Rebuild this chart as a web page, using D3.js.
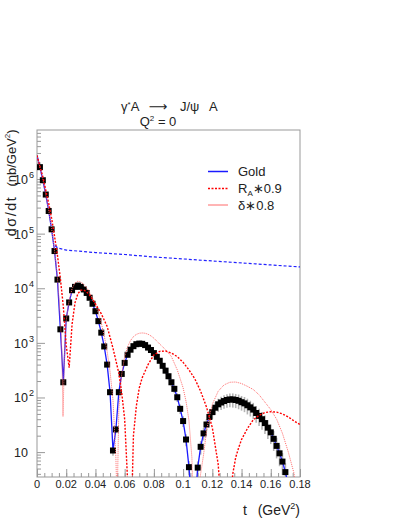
<!DOCTYPE html>
<html>
<head>
<meta charset="utf-8">
<script src="https://cdn.jsdelivr.net/npm/d3@7"></script>
<style>
  body { margin: 0; background: #fff; }
  text { font-family: "Liberation Sans", Arial, sans-serif; fill: #222; }
</style>
</head>
<body>
<div id="chart"></div>
<script>
// t grid of the Gold points (GeV^2) and dsigma/dt (nb/GeV^2)
const goldT = [0, 0.002, 0.004, 0.006, 0.008, 0.010, 0.012, 0.014, 0.016, 0.018,
  0.020, 0.022, 0.024, 0.026, 0.028, 0.030, 0.032, 0.034, 0.036, 0.038,
  0.040, 0.042, 0.044, 0.046, 0.048, 0.050, 0.052, 0.054, 0.056, 0.058,
  0.060, 0.062, 0.064, 0.066, 0.068, 0.070, 0.072, 0.074, 0.076, 0.078,
  0.080, 0.082, 0.084, 0.086, 0.088, 0.090, 0.092, 0.094, 0.096, 0.098,
  0.100, 0.102, 0.104, 0.106, 0.108, 0.110, 0.112, 0.114, 0.116, 0.118,
  0.120, 0.122, 0.124, 0.126, 0.128, 0.130, 0.132, 0.134, 0.136, 0.138,
  0.140, 0.142, 0.144, 0.146, 0.148, 0.150, 0.152, 0.154, 0.156, 0.158,
  0.160, 0.162, 0.164, 0.166, 0.168, 0.170, 0.172];
const gold = [2.7e6, 1.65e6, 9.5e5, 5.2e5, 2.6e5, 1.2e5, 4.8e4, 1.44e4, 1770, 190,
  2800, 5500, 9200, 10600, 11200, 10600, 9500, 8200, 6700, 5200,
  3800, 2500, 1540, 860, 400, 125, 10.7, 26, 125, 270,
  430, 605, 750, 870, 946, 970, 960, 910, 820, 740,
  650, 555, 470, 380, 310, 245, 190, 144, 101, 62,
  37, 17, 5.3, 1.2, 1.0, 5.2, 12.5, 22, 32, 44,
  54, 65, 75, 81, 86, 90, 92, 92, 90, 87,
  82, 78, 72, 66, 60, 52, 46, 40, 34, 28,
  23, 17.5, 13, 9.5, 6.7, 4.3, 2.5];
// relative error of each Gold point
const goldErr = [0, 0.05, 0.05, 0.05, 0.05, 0.05, 0.05, 0.05, 0.06, 0.1,
  0.06, 0.05, 0.05, 0.05, 0.05, 0.05, 0.05, 0.05, 0.05, 0.05,
  0.05, 0.06, 0.06, 0.07, 0.08, 0.1, 0.2, 0.15, 0.1, 0.08,
  0.07, 0.07, 0.07, 0.07, 0.07, 0.07, 0.08, 0.08, 0.09, 0.1,
  0.1, 0.11, 0.12, 0.13, 0.14, 0.15, 0.16, 0.17, 0.18, 0.2,
  0.22, 0.25, 0.3, 0.3, 0.3, 0.3, 0.28, 0.26, 0.25, 0.25,
  0.25, 0.26, 0.27, 0.27, 0.28, 0.28, 0.28, 0.29, 0.29, 0.3,
  0.3, 0.31, 0.32, 0.32, 0.33, 0.34, 0.35, 0.36, 0.37, 0.38,
  0.39, 0.4, 0.41, 0.42, 0.43, 0.45, 0.45];

// R_A*0.9 curve
const raT = [0, 0.004, 0.008, 0.010, 0.012, 0.014, 0.016, 0.018, 0.020, 0.022,
  0.024, 0.026, 0.028, 0.030, 0.032, 0.034, 0.036, 0.040, 0.044, 0.048,
  0.052, 0.056, 0.058, 0.060, 0.062, 0.0645, 0.066, 0.068, 0.070, 0.072,
  0.076, 0.080, 0.084, 0.088, 0.092, 0.096, 0.100, 0.104, 0.108, 0.112,
  0.116, 0.120, 0.124, 0.127, 0.131, 0.134, 0.136, 0.138, 0.140, 0.144,
  0.148, 0.152, 0.156, 0.160, 0.164, 0.168, 0.172, 0.176, 0.180];
const ra = [2.7e6, 1.1e6, 3.6e5, 1.9e5, 9e4, 4e4, 1.5e4, 4700, 900, 350,
  2200, 5400, 8000, 9200, 9300, 8600, 7500, 5200, 3400, 2000,
  800, 280, 120, 40, 3, 0.5, 20, 70, 150, 230,
  400, 600, 700, 710, 650, 560, 440, 320, 220, 130,
  67, 28, 6, 0.5, 0.5, 4, 8, 12, 17, 27,
  39, 47, 53, 55, 54, 50, 44, 37, 32];

// delta*0.8 curve
const dlT = [0, 0.004, 0.008, 0.010, 0.012, 0.014, 0.016, 0.017, 0.0178, 0.019,
  0.020, 0.022, 0.024, 0.026, 0.028, 0.030, 0.032, 0.034, 0.036, 0.038,
  0.040, 0.042, 0.044, 0.046, 0.048, 0.050, 0.052, 0.054, 0.0548, 0.056,
  0.058, 0.060, 0.062, 0.064, 0.066, 0.068, 0.070, 0.072, 0.074, 0.076,
  0.078, 0.080, 0.084, 0.088, 0.092, 0.096, 0.098, 0.100, 0.102, 0.104,
  0.106, 0.107, 0.108, 0.110, 0.112, 0.114, 0.116, 0.118, 0.120, 0.124,
  0.128, 0.132, 0.136, 0.140, 0.144, 0.148, 0.152, 0.156, 0.160, 0.164,
  0.168, 0.172, 0.176, 0.178];
const dl = [2.7e6, 9.8e5, 2.7e5, 1.25e5, 5e4, 1.6e4, 2800, 700, 45, 900,
  2600, 6000, 9800, 12500, 13500, 13000, 11800, 10200, 8400, 6600,
  5000, 3500, 2300, 1350, 700, 300, 90, 8, 1, 60,
  270, 560, 850, 1100, 1300, 1430, 1500, 1520, 1500, 1440,
  1340, 1220, 950, 750, 560, 320, 220, 150, 85, 38,
  8, 1, 0.3, 1.5, 4, 9, 24, 45, 75, 130,
  170, 190, 192, 180, 160, 140, 112, 82, 60, 40,
  22, 10, 4, 1];

// flat blue dashed curve
const incT = [0.0125, 0.014, 0.02, 0.04, 0.06, 0.08, 0.10, 0.12, 0.14, 0.16, 0.18];
const inc = [60000, 55000, 50000, 45000, 41500, 37400, 34400, 31600, 29100, 26700, 24600];

// axis ticks
const xTicks = [0, 0.02, 0.04, 0.06, 0.08, 0.1, 0.12, 0.14, 0.16, 0.18];
const xTickLabels = ["0", "0.02", "0.04", "0.06", "0.08", "0.1", "0.12", "0.14", "0.16", "0.18"];
const yTicks = [10, 100, 1000, 10000, 100000, 1000000];
const yTickExp = ["", "2", "3", "4", "5", "6"];

function renderChart() {
  const svg = d3.select("#chart").append("svg")
    .attr("width", 405)
    .attr("height", 524);

  const left = 37, right = 300, top = 130, bottom = 477;

  const x = d3.scaleLinear().domain([0, 0.18]).range([left, right]);
  const y = d3.scaleLog().domain([3.5, 7.9e6]).range([bottom, top]);

  svg.append("clipPath").attr("id", "frame")
    .append("rect")
    .attr("x", left).attr("y", top)
    .attr("width", right - left).attr("height", bottom - top);

  // ticks inside the frame
  const xMinor = d3.range(0, 0.1801, 0.005);
  svg.append("g")
    .attr("transform", `translate(0,${bottom})`)
    .call(d3.axisBottom(x).tickValues(xMinor).tickSize(-4).tickSizeOuter(0).tickFormat(""))
    .call(g => g.select(".domain").remove())
    .call(g => g.selectAll("line").attr("stroke", "#999"));
  svg.append("g")
    .attr("transform", `translate(0,${bottom})`)
    .call(d3.axisBottom(x).tickValues(xTicks).tickSize(-8).tickSizeOuter(0).tickFormat(""))
    .call(g => g.select(".domain").remove())
    .call(g => g.selectAll("line").attr("stroke", "#999"));

  const yMinor = [];
  [1, 10, 100, 1000, 10000, 100000, 1000000].forEach(d => {
    for (let k = 2; k <= 9; k++) yMinor.push(d * k);
  });
  svg.append("g")
    .attr("transform", `translate(${left},0)`)
    .call(d3.axisLeft(y).tickValues(yMinor.filter(v => v >= 3.5 && v <= 7.9e6)).tickSize(-4).tickSizeOuter(0).tickFormat(""))
    .call(g => g.select(".domain").remove())
    .call(g => g.selectAll("line").attr("stroke", "#999"));
  svg.append("g")
    .attr("transform", `translate(${left},0)`)
    .call(d3.axisLeft(y).tickValues(yTicks).tickSize(-8).tickSizeOuter(0).tickFormat(""))
    .call(g => g.select(".domain").remove())
    .call(g => g.selectAll("line").attr("stroke", "#999"));

  // frame
  svg.append("rect")
    .attr("x", left).attr("y", top)
    .attr("width", right - left).attr("height", bottom - top)
    .attr("fill", "none")
    .attr("stroke", "#999");

  // tick labels
  svg.selectAll(".xlab")
    .data(xTicks)
    .enter().append("text")
    .attr("x", d => x(d))
    .attr("y", 488)
    .attr("text-anchor", "middle")
    .style("font-size", "11px")
    .text((d, i) => xTickLabels[i]);

  yTicks.forEach((d, i) => {
    svg.append("text")
      .attr("x", 28)
      .attr("y", y(d) + 5)
      .attr("text-anchor", "end")
      .style("font-size", "12.5px")
      .text("10");
    if (yTickExp[i]) {
      svg.append("text")
        .attr("x", 29)
        .attr("y", y(d) - 1)
        .style("font-size", "9px")
        .text(yTickExp[i]);
    }
  });

  const plot = svg.append("g").attr("clip-path", "url(#frame)");

  const line = d3.line().x(d => x(d[0])).y(d => y(d[1]));
  const pairs = (ts, vs) => ts.map((t, i) => [t, vs[i]]);

  // error bars
  const pts = pairs(goldT, gold).map((p, i) => [p[0], p[1], goldErr[i]])
    .filter(p => p[0] > 0 && p[1] >= 3.5);
  plot.selectAll(".err")
    .data(pts)
    .enter().append("line")
    .attr("x1", d => x(d[0])).attr("x2", d => x(d[0]))
    .attr("y1", d => y(d[1] * (1 + d[2])))
    .attr("y2", d => y(Math.max(d[1] * (1 - d[2]), 0.1)))
    .attr("stroke", "#b4b4b4")
    .attr("stroke-width", 1.6);

  // Gold curve
  plot.append("path")
    .attr("d", line(pairs(goldT, gold)))
    .attr("fill", "none")
    .attr("stroke", "#1a1aff")
    .attr("stroke-width", 1.3);

  // Gold points
  plot.selectAll(".pt")
    .data(pts)
    .enter().append("rect")
    .attr("x", d => x(d[0]) - 3)
    .attr("y", d => y(d[1]) - 3)
    .attr("width", 6)
    .attr("height", 6)
    .attr("fill", "#000");

  // delta*0.8
  plot.append("path")
    .attr("d", line(pairs(dlT, dl)))
    .attr("fill", "none")
    .attr("stroke", "#ff6a6a")
    .attr("stroke-width", 1)
    .attr("stroke-dasharray", "1,1");

  // R_A*0.9
  plot.append("path")
    .attr("d", line(pairs(raT, ra)))
    .attr("fill", "none")
    .attr("stroke", "#ff0000")
    .attr("stroke-width", 1.4)
    .attr("stroke-dasharray", "2,1.5");

  // blue dashed
  plot.append("path")
    .attr("d", line(pairs(incT, inc)))
    .attr("fill", "none")
    .attr("stroke", "#2222ff")
    .attr("stroke-width", 1.2)
    .attr("stroke-dasharray", "3,2");

  // legend
  const legend = [
    { y: 171.5, stroke: "#1a1aff", dash: null, w: 1.5 },
    { y: 188.5, stroke: "#ff0000", dash: "2,1.5", w: 1.4 },
    { y: 205, stroke: "#ff6a6a", dash: null, w: 1 }
  ];
  legend.forEach(l => {
    svg.append("line")
      .attr("x1", 208).attr("x2", 228)
      .attr("y1", l.y).attr("y2", l.y)
      .attr("stroke", l.stroke)
      .attr("stroke-width", l.w)
      .attr("stroke-dasharray", l.dash);
  });
  svg.append("text").attr("x", 238).attr("y", 176).style("font-size", "13px").text("Gold");
  const t2 = svg.append("text").attr("x", 238).attr("y", 193).style("font-size", "13px");
  t2.append("tspan").text("R");
  t2.append("tspan").attr("dy", 3).style("font-size", "8px").text("A");
  t2.append("tspan").attr("dy", -3).text("∗0.9");
  svg.append("text").attr("x", 238).attr("y", 209.5).style("font-size", "13px").text("δ∗0.8");

  // title
  const t1 = svg.append("text").attr("x", 121).attr("y", 111).style("font-size", "13px");
  t1.append("tspan").text("γ");
  t1.append("tspan").attr("dy", -4).style("font-size", "8px").text("*");
  t1.append("tspan").attr("dy", 4).text("A");
  svg.append("text").attr("x", 158).attr("y", 111)
    .attr("text-anchor", "middle")
    .style("font-family", "DejaVu Sans")
    .style("font-size", "13px")
    .text("⟶");
  svg.append("text").attr("x", 180).attr("y", 111).style("font-size", "13px").text("J/ψ");
  svg.append("text").attr("x", 209).attr("y", 111).style("font-size", "13px").text("A");
  const q = svg.append("text").attr("x", 158).attr("y", 126)
    .attr("text-anchor", "middle").style("font-size", "13px");
  q.append("tspan").text("Q");
  q.append("tspan").attr("dy", -5).style("font-size", "8px").text("2");
  q.append("tspan").attr("dy", 5).text(" = 0");

  // x axis label
  svg.append("text").attr("x", 243).attr("y", 515).style("font-size", "14px").text("t");
  const xl = svg.append("text").attr("x", 300).attr("y", 515)
    .attr("text-anchor", "end").style("font-size", "14px");
  xl.append("tspan").text("(GeV");
  xl.append("tspan").attr("dy", -6).style("font-size", "9px").text("2");
  xl.append("tspan").attr("dy", 6).text(")");

  // y axis label
  svg.append("text")
    .attr("transform", "translate(16,216) rotate(-90)")
    .attr("text-anchor", "middle")
    .style("font-size", "14.5px")
    .style("letter-spacing", "1.5px")
    .text("dσ/dt");
  const yl = svg.append("text")
    .attr("transform", "translate(16,158) rotate(-90)")
    .attr("text-anchor", "middle")
    .style("font-size", "13px");
  yl.append("tspan").text("(nb/GeV");
  yl.append("tspan").attr("dy", -6).style("font-size", "8px").text("2");
  yl.append("tspan").attr("dy", 6).text(")");
}

document.addEventListener("DOMContentLoaded", renderChart);
</script>
</body>
</html>
